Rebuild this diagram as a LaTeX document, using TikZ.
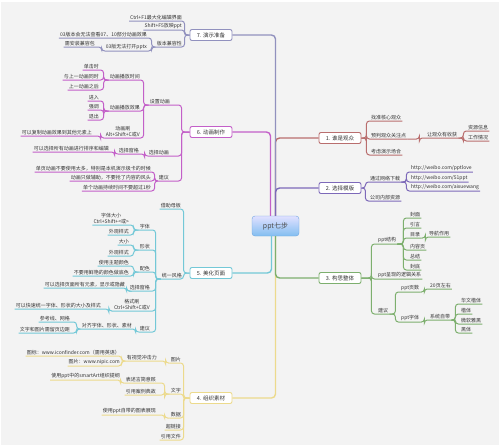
\documentclass[tikz,border=0pt]{standalone}
\usepackage{fontspec}
\newfontfamily\cjk{Noto Sans CJK SC}
\usetikzlibrary{positioning}
\definecolor{c1}{RGB}{185,110,110}
\definecolor{c2}{RGB}{125,105,185}
\definecolor{c3}{RGB}{125,175,110}
\definecolor{c4}{RGB}{236,218,140}
\definecolor{c5}{RGB}{115,200,215}
\definecolor{c6}{RGB}{195,95,200}
\definecolor{c7}{RGB}{145,145,190}
\definecolor{bg}{RGB}{243,243,243}
\definecolor{rootline}{RGB}{110,165,225}

\begin{document}
\begin{tikzpicture}[
      x=1pt, y=-1pt,
      root/.style={draw=rootline, top color=blue!12!white, bottom color={rgb,255:red,130;green,190;blue,240}, rounded corners=3pt, minimum width=47pt, minimum height=20pt, font=\cjk\fontsize{7}{8}\selectfont, text=black!70},
      topic/.style={draw=#1, fill=white, line width=0.9pt, rounded corners=2pt, minimum width=42pt, minimum height=11pt, inner sep=1pt, font=\cjk\fontsize{5.5}{6}\selectfont, text=black!80},
      leaf/.style={font=\cjk\fontsize{5}{5.8}\selectfont, inner xsep=1pt, inner ysep=0.8pt, text=black!80, align=center},
      lnode/.style={leaf, anchor=south east},
      rnode/.style={leaf, anchor=south west},
      trunk/.style={draw=#1, line width=1.4pt, rounded corners=4pt},
      link/.style={draw=#1, line width=1pt, rounded corners=3pt}
    ]
    \fill[white] (0,0) rectangle (500,447);
    \fill[bg] (1,2) rectangle (499,445);
    \useasboundingbox (0,0) rectangle (500,447);

    \node[root] (ppt) at (275.5,226) {ppt七步};

    % 7
    \node[topic=c7] (t7) at (211,35) {7. 演示准备};
    \node[lnode] (t7a) at (183,21) {Ctrl+F1最大化编辑界面};
    \node[lnode] (t7b) at (183,30) {Shift+F5放映ppt};
    \node[lnode] (t7c) at (183,47) {版本兼容性};
    \node[lnode] (t7c1) at (148,38) {03版本会无法查看07、10部分动画效果};
    \node[lnode] (t7c2) at (148,51) {03版无法打开pptx};
    \node[lnode] (t7c2a) at (96,47) {需安装兼容包};

    % 6
    \node[topic=c6] (t6) at (211,132) {6. 动画制作};
    \node[lnode] (t6a) at (171,105) {设置动画};
    \node[lnode] (t6a1) at (141,80) {动画播放时间};
    \node[lnode] (t6a1a) at (100,70) {单击时};
    \node[lnode] (t6a1b) at (100,80) {与上一动画同时};
    \node[lnode] (t6a1c) at (100,90) {上一动画之后};
    \node[lnode] (t6a2) at (141,111) {动画播放效果};
    \node[lnode] (t6a2a) at (100,101) {进入};
    \node[lnode] (t6a2b) at (100,110) {强调};
    \node[lnode] (t6a2c) at (100,120) {退出};
    \node[lnode] (t6a3) at (141,138) {动画刷\\Alt+Shift+C或V};
    \node[lnode] (t6a3a) at (93,136) {可以复制动画效果到其他元素上};
    \node[lnode] (t6b) at (170,156) {选择动画};
    \node[lnode] (t6b1) at (140,154) {选择窗格};
    \node[lnode] (t6b1a) at (110,152) {可以选择所有动画进行排序和编辑};
    \node[lnode] (t6c) at (170,181) {建议};
    \node[lnode] (t6c1) at (152,172) {单页动画不要使用太多，特别是本机演示极卡的时候};
    \node[lnode] (t6c2) at (152,181) {动画只做辅助，不要抢了内容的风头};
    \node[lnode] (t6c3) at (152,191) {单个动画持续时间不要超过1秒};

    % 5
    \node[topic=c5] (t5) at (211,273) {5. 美化页面};
    \node[lnode] (t5a) at (182,209) {借助母板};
    \node[lnode] (t5b) at (183,279) {统一风格};
    \node[lnode] (t5b1) at (151,230) {字体};
    \node[lnode] (t5b1a) at (130,225) {字体大小\\Ctrl+Shift+<或>};
    \node[lnode] (t5b1b) at (130,235) {外观样式};
    \node[lnode] (t5b2) at (151,250) {形状};
    \node[lnode] (t5b2a) at (130,245) {大小};
    \node[lnode] (t5b2b) at (130,256) {外观样式};
    \node[lnode] (t5b3) at (151,272) {配色};
    \node[lnode] (t5b3a) at (130,266) {使用主题颜色};
    \node[lnode] (t5b3b) at (130,276) {不要用鲜艳的颜色做底色};
    \node[lnode] (t5b4) at (151,291) {选择窗格};
    \node[lnode] (t5b4a) at (126,288) {可以选择页面所有元素，显示或隐藏};
    \node[lnode] (t5b5) at (151,311) {格式刷\\Ctrl+Shift+C或V};
    \node[lnode] (t5b5a) at (102,309) {可以快速统一字体、形状的大小及样式};
    \node[lnode] (t5b6) at (151,332) {建议};
    \node[lnode] (t5b6a) at (133,329) {对齐字体、形状、素材};
    \node[lnode] (t5b6a1) at (71,322) {参考线、网格};
    \node[lnode] (t5b6a2) at (71,333) {文字和图片需留页边距};

    % 4
    \node[topic=c4] (t4) at (211,398) {4. 组织素材};
    \node[lnode] (t4a) at (182,363) {图片};
    \node[lnode] (t4a1) at (158,361) {有视觉冲击力};
    \node[lnode] (t4a1a) at (121,356) {图标：www.iconfinder.com（需用英语）};
    \node[lnode] (t4a1b) at (121,366) {图片：www.nipic.com};
    \node[lnode] (t4b) at (182,394) {文字};
    \node[lnode] (t4b1) at (157,383) {表述言简意赅};
    \node[lnode] (t4b1a) at (121,380) {使用ppt中的smartArt组织提纲};
    \node[lnode] (t4b2) at (157,395) {引用案例典故};
    \node[lnode] (t4c) at (182,418) {数据};
    \node[lnode] (t4c1) at (157,415) {使用ppt自带的图表展现};
    \node[lnode] (t4d) at (182,430) {超链接};
    \node[lnode] (t4e) at (182,440) {引用文件};

    % 1
    \node[topic=c1] (t1) at (340,138) {1. 谁是观众};
    \node[rnode] (t1a) at (370,121) {找准核心观众};
    \node[rnode] (t1b) at (370,139) {预判观众关注点};
    \node[rnode] (t1b1) at (426,138) {让观众有收获};
    \node[rnode] (t1b1a) at (467,131) {资源信息};
    \node[rnode] (t1b1b) at (467,141) {工作情况};
    \node[rnode] (t1c) at (370,155) {考虑演示场合};

    % 2
    \node[topic=c2] (t2) at (340,188) {2. 选择模版};
    \node[rnode] (t2a) at (369,182) {通过网络下载};
    \node[rnode] (t2a1) at (410,172) {http://weibo.com/pptlove};
    \node[rnode] (t2a2) at (410,182) {http://weibo.com/51ppt};
    \node[rnode] (t2a3) at (410,191) {http://weibo.com/aixuewang};
    \node[rnode] (t2b) at (369,201) {公司内部资源};

    % 3
    \node[topic=c3] (t3) at (340,278) {3. 构思整体};
    \node[rnode] (t3a) at (377,244) {ppt结构};
    \node[rnode] (t3a1) at (409,218) {封面};
    \node[rnode] (t3a2) at (409,228) {引言};
    \node[rnode] (t3a3) at (409,238) {目录};
    \node[rnode] (t3a3a) at (428,237) {导航作用};
    \node[rnode] (t3a4) at (409,250) {内容页};
    \node[rnode] (t3a5) at (409,260) {总结};
    \node[rnode] (t3a6) at (409,270) {封底};
    \node[rnode] (t3b) at (377,279) {ppt呈现的逻辑关系};
    \node[rnode] (t3c) at (377,314) {建议};
    \node[rnode] (t3c1) at (400,292) {ppt页数};
    \node[rnode] (t3c1a) at (429,289) {20页左右};
    \node[rnode] (t3c2) at (400,322) {ppt字体};
    \node[rnode] (t3c2a) at (429,320) {系统自带};
    \node[rnode] (t3c2a1) at (460,304) {华文楷体};
    \node[rnode] (t3c2a2) at (460,314) {楷体};
    \node[rnode] (t3c2a3) at (460,324) {微软雅黑};
    \node[rnode] (t3c2a4) at (460,333) {黑体};

    % trunk
    \draw[trunk=c6] ([xshift=-5pt]ppt.north) |- (t6.east);
    \draw[trunk=c1] (ppt.north) |- (t1.west);
    \draw[trunk=c7] (ppt.north) |- (t7.east);
    \draw[trunk=c2] (ppt.north) |- (t2.west);
    \draw[trunk=c4] (ppt.south) |- (t4.east);
    \draw[trunk=c3] (ppt.south) |- (t3.west);
    \draw[trunk=c5] ([xshift=-4pt]ppt.south) |- (t5.east);

    % 7
    \foreach \n in {t7a,t7b,t7c}
      \draw[link=c7] (t7.west) -- ++(-5,0) |- (\n.south west);
    \foreach \n in {t7c1,t7c2}
      \draw[link=c7] (t7c.south west) -- ++(-4,0) |- (\n.south west);
    \draw[link=c7] (t7c2.south west) -- ++(-3,0) |- (t7c2a.south west);

    % 6
    \foreach \n in {t6a,t6b,t6c}
      \draw[link=c6] (t6.west) -- ++(-8,0) |- (\n.south west);
    \foreach \n in {t6a1,t6a2,t6a3}
      \draw[link=c6] (t6a.south west) -- ++(-5,0) |- (\n.south west);
    \foreach \n in {t6a1a,t6a1b,t6a1c}
      \draw[link=c6] (t6a1.south west) -- ++(-5,0) |- (\n.south west);
    \foreach \n in {t6a2a,t6a2b,t6a2c}
      \draw[link=c6] (t6a2.south west) -- ++(-5,0) |- (\n.south west);
    \draw[link=c6] (t6a3.south west) -- ++(-4,0) |- (t6a3a.south west);
    \draw[link=c6] (t6b.south west) -- ++(-3,0) |- (t6b1.south west);
    \draw[link=c6] (t6b1.south west) -- ++(-3,0) |- (t6b1a.south west);
    \foreach \n in {t6c1,t6c2,t6c3}
      \draw[link=c6] (t6c.south west) -- ++(-3,0) |- (\n.south west);

    % 5
    \foreach \n in {t5a,t5b}
      \draw[link=c5] (t5.west) -- ++(-6,0) |- (\n.south west);
    \foreach \n in {t5b1,t5b2,t5b3,t5b4,t5b5,t5b6}
      \draw[link=c5] (t5b.south west) -- ++(-5,0) |- (\n.south west);
    \foreach \n in {t5b1a,t5b1b}
      \draw[link=c5] (t5b1.south west) -- ++(-5,0) |- (\n.south west);
    \foreach \n in {t5b2a,t5b2b}
      \draw[link=c5] (t5b2.south west) -- ++(-5,0) |- (\n.south west);
    \foreach \n in {t5b3a,t5b3b}
      \draw[link=c5] (t5b3.south west) -- ++(-5,0) |- (\n.south west);
    \draw[link=c5] (t5b4.south west) -- ++(-2,0) |- (t5b4a.south west);
    \draw[link=c5] (t5b5.south west) -- ++(-4,0) |- (t5b5a.south west);
    \draw[link=c5] (t5b6.south west) -- ++(-3,0) |- (t5b6a.south west);
    \foreach \n in {t5b6a1,t5b6a2}
      \draw[link=c5] (t5b6a.south west) -- ++(-4,0) |- (\n.south west);

    % 4
    \foreach \n in {t4a,t4b,t4c,t4d,t4e}
      \draw[link=c4] (t4.west) -- ++(-6,0) |- (\n.south west);
    \draw[link=c4] (t4a.south west) -- ++(-4,0) |- (t4a1.south west);
    \foreach \n in {t4a1a,t4a1b}
      \draw[link=c4] (t4a1.south west) -- ++(-4,0) |- (\n.south west);
    \foreach \n in {t4b1,t4b2}
      \draw[link=c4] (t4b.south west) -- ++(-5,0) |- (\n.south west);
    \draw[link=c4] (t4b1.south west) -- ++(-4,0) |- (t4b1a.south west);
    \draw[link=c4] (t4c.south west) -- ++(-5,0) |- (t4c1.south west);

    % 1
    \foreach \n in {t1a,t1b,t1c}
      \draw[link=c1] (t1.east) -- ++(5,0) |- (\n.south east);
    \draw[link=c1] (t1b.south east) -- ++(12,0) |- (t1b1.south east);
    \foreach \n in {t1b1a,t1b1b}
      \draw[link=c1] (t1b1.south east) -- ++(5,0) |- (\n.south east);

    % 2
    \foreach \n in {t2a,t2b}
      \draw[link=c2] (t2.east) -- ++(4,0) |- (\n.south east);
    \foreach \n in {t2a1,t2a2,t2a3}
      \draw[link=c2] (t2a.south east) -- ++(5,0) |- (\n.south east);

    % 3
    \foreach \n in {t3a,t3b,t3c}
      \draw[link=c3] (t3.east) -- ++(10,0) |- (\n.south east);
    \foreach \n in {t3a1,t3a2,t3a3,t3a4,t3a5,t3a6}
      \draw[link=c3] (t3a.south east) -- ++(6,0) |- (\n.south east);
    \draw[link=c3] (t3a3.south east) -- ++(4,0) |- (t3a3a.south east);
    \foreach \n in {t3c1,t3c2}
      \draw[link=c3] (t3c.south east) -- ++(6,0) |- (\n.south east);
    \draw[link=c3] (t3c1.south east) -- ++(4,0) |- (t3c1a.south east);
    \draw[link=c3] (t3c2.south east) -- ++(4,0) |- (t3c2a.south east);
    \foreach \n in {t3c2a1,t3c2a2,t3c2a3,t3c2a4}
      \draw[link=c3] (t3c2a.south east) -- ++(4,0) |- (\n.south east);
  \end{tikzpicture}
\end{document}
